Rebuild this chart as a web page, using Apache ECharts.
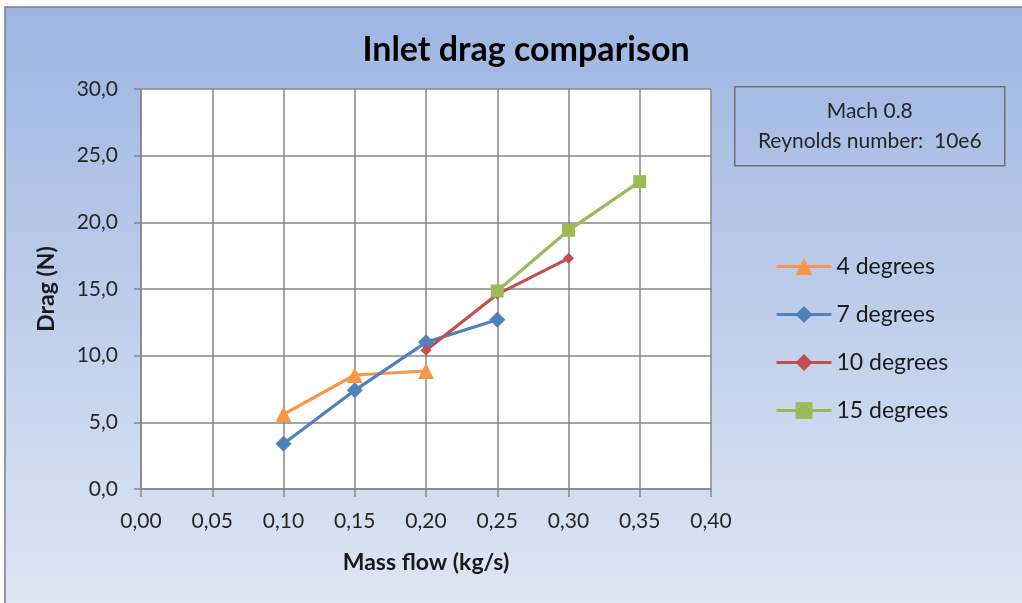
<!DOCTYPE html>
<html>
<head>
<meta charset="utf-8">
<script src="https://cdn.jsdelivr.net/npm/echarts@6/dist/echarts.min.js"></script>
<style>
  html, body { margin: 0; padding: 0; background: #ffffff; }
  #chart { width: 1022px; height: 603px; }
</style>
</head>
<body>
<div id="chart"></div>
<script>
// Mass flow (kg/s) and drag (N) per inlet angle
const seriesNames = ['4 degrees', '7 degrees', '10 degrees', '15 degrees'];
const flow4 = [0.10, 0.15, 0.20];
const drag4 = [5.6, 8.55, 8.85];
const flow7 = [0.10, 0.15, 0.20, 0.25];
const drag7 = [3.4, 7.4, 11.0, 12.7];
const flow10 = [0.20, 0.25, 0.30];
const drag10 = [10.4, 14.6, 17.3];
const flow15 = [0.25, 0.30, 0.35];
const drag15 = [14.85, 19.4, 23.05];

const xTicks = [0, 0.05, 0.10, 0.15, 0.20, 0.25, 0.30, 0.35, 0.40];
const yTicks = [0, 5, 10, 15, 20, 25, 30];

const colors = ['#F79646', '#4F81BD', '#C0504D', '#9BBB59'];
const symbols = ['triangle', 'diamond', 'diamond', 'rect'];
const symbolSizes = [16, 16, 11, 13];
const FONT = 'Lato, "Open Sans", sans-serif';

const pairs = (xs, ys) => xs.map((x, i) => [x, ys[i]]);
const seriesData = [pairs(flow4, drag4), pairs(flow7, drag7), pairs(flow10, drag10), pairs(flow15, drag15)];

const chart = echarts.init(document.getElementById('chart'));

chart.setOption({
  backgroundColor: '#ffffff',
  animation: false,
  title: {
    text: 'Inlet drag comparison',
    left: 521,
    textAlign: 'center',
    top: 28,
    textStyle: { fontFamily: FONT, fontSize: 34, fontWeight: 'bold', color: '#000000' }
  },
  graphic: [
    {
      type: 'rect',
      z: -100,
      silent: true,
      shape: { x: 5, y: 7, width: 1030, height: 610 },
      style: {
        fill: new echarts.graphic.LinearGradient(0, 0, 0, 1, [
          { offset: 0, color: '#9DB5E2' },
          { offset: 1, color: '#E0E7F4' }
        ]),
        stroke: '#7F7F7F',
        lineWidth: 1.5
      }
    },
    {
      type: 'group',
      left: 734,
      top: 86,
      children: [
        {
          type: 'rect',
          shape: { x: 0, y: 0, width: 270, height: 79 },
          style: { fill: 'transparent', stroke: '#6E6E6E', lineWidth: 1.5 }
        },
        {
          type: 'text',
          x: 135, y: 24,
          style: { text: 'Mach 0.8', fontFamily: FONT, fontSize: 21, fill: '#262626', align: 'center', verticalAlign: 'middle' }
        },
        {
          type: 'text',
          x: 135, y: 54,
          style: { text: 'Reynolds number:  10e6', fontFamily: FONT, fontSize: 21, fill: '#262626', align: 'center', verticalAlign: 'middle' }
        }
      ]
    }
  ],
  legend: {
    orient: 'vertical',
    left: 775,
    top: 255,
    padding: 0,
    itemWidth: 55,
    itemHeight: 21,
    itemGap: 25,
    data: seriesNames,
    lineStyle: { width: 3 },
    textStyle: { fontFamily: FONT, fontSize: 23, color: '#1A1A1A' }
  },
  grid: {
    left: 141,
    right: 311,
    top: 89,
    bottom: 114,
    show: true,
    backgroundColor: '#ffffff',
    borderWidth: 0
  },
  xAxis: {
    type: 'value',
    min: xTicks[0],
    max: xTicks[xTicks.length - 1],
    interval: xTicks[1] - xTicks[0],
    name: 'Mass flow (kg/s)',
    nameLocation: 'middle',
    nameGap: 62,
    nameTextStyle: { fontFamily: FONT, fontSize: 23, fontWeight: 'bold', color: '#1A1A1A' },
    axisLine: { lineStyle: { color: '#878787', width: 1.5 } },
    axisTick: { show: true, length: 8, lineStyle: { color: '#878787', width: 1.5 } },
    axisLabel: {
      margin: 22,
      fontFamily: FONT, fontSize: 21, color: '#262626',
      formatter: v => v.toFixed(2).replace('.', ',')
    },
    splitLine: { show: true, lineStyle: { color: '#878787', width: 1.5 } }
  },
  yAxis: {
    type: 'value',
    min: yTicks[0],
    max: yTicks[yTicks.length - 1],
    interval: yTicks[1] - yTicks[0],
    name: 'Drag (N)',
    nameLocation: 'middle',
    nameGap: 83,
    nameRotate: 90,
    nameTextStyle: { fontFamily: FONT, fontSize: 23, fontWeight: 'bold', color: '#1A1A1A' },
    axisLine: { show: true, lineStyle: { color: '#878787', width: 1.5 } },
    axisTick: { show: true, length: 7, lineStyle: { color: '#878787', width: 1.5 } },
    axisLabel: {
      margin: 23,
      fontFamily: FONT, fontSize: 21, color: '#262626',
      formatter: v => v.toFixed(1).replace('.', ',')
    },
    splitLine: { show: true, lineStyle: { color: '#878787', width: 1.5 } }
  },
  series: seriesNames.map((name, i) => ({
    name,
    type: 'line',
    data: seriesData[i],
    symbol: symbols[i],
    symbolSize: symbolSizes[i],
    showAllSymbol: true,
    lineStyle: { color: colors[i], width: 3.2 },
    itemStyle: { color: colors[i] },
    emphasis: { disabled: true }
  }))
});
</script>
</body>
</html>
